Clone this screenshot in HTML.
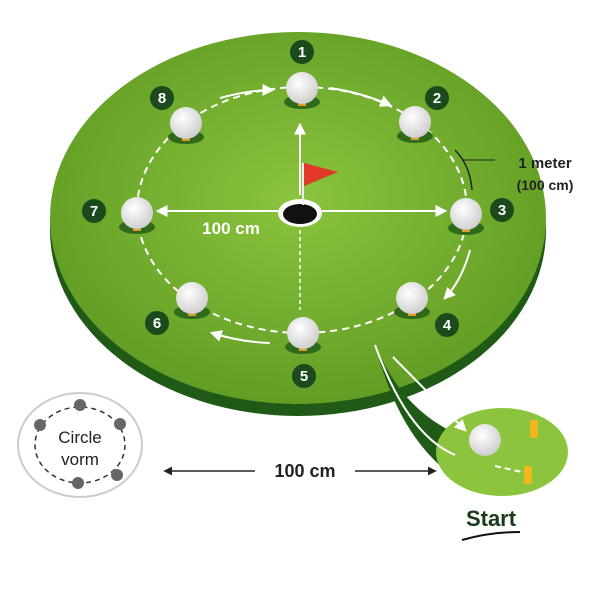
<!DOCTYPE html>
<html><head><style>body{margin:0;background:#fff}svg{display:block}text{font-family:"Liberation Sans",sans-serif}</style></head><body>
<svg width="600" height="600" viewBox="0 0 600 600">
<defs>
<radialGradient id="g" cx="50%" cy="45%" r="60%"><stop offset="0" stop-color="#8cc43e"/><stop offset="1" stop-color="#5e9a22"/></radialGradient>
<radialGradient id="b" cx="40%" cy="35%" r="65%"><stop offset="0" stop-color="#fff"/><stop offset="1" stop-color="#cfcfcf"/></radialGradient>
<marker id="a" viewBox="0 0 10 10" refX="8" refY="5" markerWidth="6" markerHeight="6" orient="auto"><path d="M0,0L10,5L0,10z" fill="#fff"/></marker>
<marker id="k" viewBox="0 0 10 10" refX="8" refY="5" markerWidth="6" markerHeight="6" orient="auto"><path d="M0,0L10,5L0,10z" fill="#222"/></marker>
</defs>
<ellipse cx="298" cy="230" rx="248" ry="186" fill="#1f5b16"/>
<ellipse cx="298" cy="218" rx="248" ry="186" fill="url(#g)"/>
<!-- start green -->
<path d="M375,345 C390,400 410,440 445,470 L470,440 C420,420 395,390 375,345z" fill="#1f5b16"/>
<ellipse cx="502" cy="452" rx="66" ry="44" fill="#8cc43e"/>
<path d="M375,345 C395,400 420,440 455,455" stroke="#fff" stroke-width="2" fill="none"/>
<path d="M393,357 L465,430" stroke="#fff" stroke-width="2" marker-end="url(#a)"/>
<circle cx="485" cy="440" r="16" fill="url(#b)"/>
<rect x="530" y="420" width="8" height="18" rx="2" fill="#f2b71e"/>
<rect x="524" y="466" width="8" height="18" rx="2" fill="#f2b71e"/>
<line x1="495" y1="466" x2="522" y2="472" stroke="#fff" stroke-width="2" stroke-dasharray="6,4"/>
<text x="491" y="526" font-size="22" font-weight="bold" fill="#1a3a1a" text-anchor="middle">Start</text>
<path d="M462,540 Q490,532 520,532" stroke="#111" stroke-width="2" fill="none"/>
<!-- dashed circle -->
<ellipse cx="302" cy="210" rx="165" ry="123" fill="none" stroke="#fff" stroke-width="2" stroke-dasharray="7,5"/>
<path d="M220,98 Q250,90 272,90" stroke="#fff" stroke-width="2" fill="none" marker-end="url(#a)"/>
<path d="M330,88 Q360,92 390,105" stroke="#fff" stroke-width="2" fill="none" marker-end="url(#a)"/>
<path d="M470,250 Q462,280 445,298" stroke="#fff" stroke-width="2" fill="none" marker-end="url(#a)"/>
<path d="M270,343 Q240,342 212,333" stroke="#fff" stroke-width="2" fill="none" marker-end="url(#a)"/>
<!-- hole -->
<ellipse cx="300" cy="213" rx="22" ry="14" fill="#fff"/>
<ellipse cx="300" cy="214" rx="17" ry="10" fill="#111"/>
<line x1="303" y1="205" x2="303" y2="163" stroke="#eee" stroke-width="2"/>
<path d="M304,163 L338,172 L304,186z" fill="#e0392a"/>
<line x1="300" y1="195" x2="300" y2="125" stroke="#fff" stroke-width="2" marker-end="url(#a)"/>
<line x1="300" y1="230" x2="300" y2="310" stroke="#fff" stroke-width="1.5" stroke-dasharray="4,3"/>
<line x1="278" y1="211" x2="158" y2="211" stroke="#fff" stroke-width="2" marker-end="url(#a)"/>
<line x1="322" y1="211" x2="445" y2="211" stroke="#fff" stroke-width="2" marker-end="url(#a)"/>
<text x="231" y="234" font-size="17" font-weight="bold" fill="#fff" text-anchor="middle">100 cm</text>
<!-- balls -->
<g>
<g transform="translate(302,88)"><ellipse cx="0" cy="14" rx="18" ry="7" fill="#2f6a1a"/><rect x="-4" y="8" width="8" height="10" fill="#e09a2a"/><circle r="16" fill="url(#b)"/></g>
<g transform="translate(415,122)"><ellipse cx="0" cy="14" rx="18" ry="7" fill="#2f6a1a"/><rect x="-4" y="8" width="8" height="10" fill="#e09a2a"/><circle r="16" fill="url(#b)"/></g>
<g transform="translate(466,214)"><ellipse cx="0" cy="14" rx="18" ry="7" fill="#2f6a1a"/><rect x="-4" y="8" width="8" height="10" fill="#e09a2a"/><circle r="16" fill="url(#b)"/></g>
<g transform="translate(412,298)"><ellipse cx="0" cy="14" rx="18" ry="7" fill="#2f6a1a"/><rect x="-4" y="8" width="8" height="10" fill="#e09a2a"/><circle r="16" fill="url(#b)"/></g>
<g transform="translate(303,333)"><ellipse cx="0" cy="14" rx="18" ry="7" fill="#2f6a1a"/><rect x="-4" y="8" width="8" height="10" fill="#e09a2a"/><circle r="16" fill="url(#b)"/></g>
<g transform="translate(192,298)"><ellipse cx="0" cy="14" rx="18" ry="7" fill="#2f6a1a"/><rect x="-4" y="8" width="8" height="10" fill="#e09a2a"/><circle r="16" fill="url(#b)"/></g>
<g transform="translate(137,213)"><ellipse cx="0" cy="14" rx="18" ry="7" fill="#2f6a1a"/><rect x="-4" y="8" width="8" height="10" fill="#e09a2a"/><circle r="16" fill="url(#b)"/></g>
<g transform="translate(186,123)"><ellipse cx="0" cy="14" rx="18" ry="7" fill="#2f6a1a"/><rect x="-4" y="8" width="8" height="10" fill="#e09a2a"/><circle r="16" fill="url(#b)"/></g>
</g>
<!-- badges -->
<g font-size="15" font-weight="bold" fill="#fff" text-anchor="middle">
<circle cx="302" cy="52" r="12" fill="#1c4a1c"/><text x="302" y="57">1</text>
<circle cx="437" cy="98" r="12" fill="#1c4a1c"/><text x="437" y="103">2</text>
<circle cx="502" cy="210" r="12" fill="#1c4a1c"/><text x="502" y="215">3</text>
<circle cx="447" cy="325" r="12" fill="#1c4a1c"/><text x="447" y="330">4</text>
<circle cx="304" cy="376" r="12" fill="#1c4a1c"/><text x="304" y="381">5</text>
<circle cx="157" cy="323" r="12" fill="#1c4a1c"/><text x="157" y="328">6</text>
<circle cx="94" cy="211" r="12" fill="#1c4a1c"/><text x="94" y="216">7</text>
<circle cx="162" cy="98" r="12" fill="#1c4a1c"/><text x="162" y="103">8</text>
</g>
<path d="M455,150 Q470,165 472,190" stroke="#222" stroke-width="1.5" fill="none"/>
<line x1="462" y1="160" x2="495" y2="160" stroke="#222" stroke-width="1"/>
<text x="545" y="168" font-size="15" font-weight="bold" fill="#222" text-anchor="middle">1 meter</text>
<text x="545" y="190" font-size="14" font-weight="bold" fill="#222" text-anchor="middle">(100 cm)</text>
<!-- bottom -->
<line x1="255" y1="471" x2="165" y2="471" stroke="#222" stroke-width="1.5" marker-end="url(#k)"/>
<line x1="355" y1="471" x2="435" y2="471" stroke="#222" stroke-width="1.5" marker-end="url(#k)"/>
<text x="305" y="477" font-size="18" font-weight="bold" fill="#222" text-anchor="middle">100 cm</text>
<ellipse cx="80" cy="445" rx="62" ry="52" fill="#fff" stroke="#ccc" stroke-width="2"/>
<ellipse cx="80" cy="445" rx="45" ry="38" fill="none" stroke="#333" stroke-width="1.5" stroke-dasharray="5,4"/>
<g fill="#666"><circle cx="80" cy="405" r="6"/><circle cx="120" cy="424" r="6"/><circle cx="117" cy="475" r="6"/><circle cx="78" cy="483" r="6"/><circle cx="40" cy="425" r="6"/></g>
<text x="80" y="443" font-size="17" fill="#222" text-anchor="middle">Circle</text>
<text x="80" y="465" font-size="17" fill="#222" text-anchor="middle">vorm</text>
</svg>
</body></html>
